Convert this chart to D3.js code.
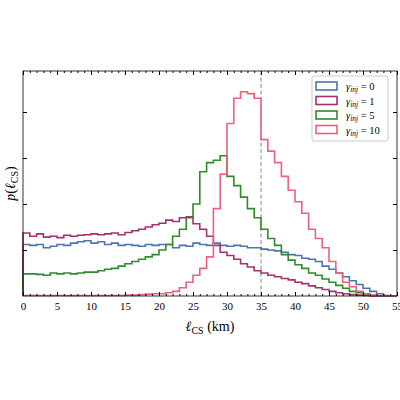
<!DOCTYPE html>
<html><head><meta charset="utf-8">
<script src="https://cdn.jsdelivr.net/npm/d3@7"></script>
<style>body{margin:0;background:#fff}text{font-family:"Liberation Serif","DejaVu Serif",serif}</style>
</head><body><svg id="c" width="400" height="400"></svg>
<script>
const binEdges = d3.range(0, 56, 1);
const gamma0 = [1.12,1.1,1.12,1.05,1.08,1.12,1.1,1.15,1.18,1.2,1.15,1.18,1.12,1.15,1.1,1.12,1.1,1.08,1.12,1.1,1.12,1.12,1.05,1.1,1.08,1.15,1.12,1.1,1.15,1.1,1.08,1.1,1.08,1.05,1.05,1.02,1.0,0.98,0.95,0.9,0.88,0.82,0.8,0.75,0.65,0.58,0.5,0.42,0.33,0.25,0.17,0.1,0.05,0.01,0];
const gamma1 = [1.37,1.3,1.35,1.28,1.3,1.27,1.32,1.3,1.32,1.33,1.35,1.33,1.35,1.37,1.33,1.38,1.42,1.45,1.5,1.55,1.58,1.65,1.62,1.7,1.72,1.57,1.45,1.3,1.1,0.95,0.88,0.8,0.7,0.63,0.55,0.5,0.45,0.42,0.38,0.35,0.3,0.27,0.22,0.18,0.14,0.1,0.07,0.05,0.03,0.02,0.01,0,0,0,0];
const gamma5 = [0.48,0.48,0.47,0.45,0.5,0.48,0.5,0.48,0.5,0.52,0.52,0.55,0.58,0.6,0.65,0.7,0.75,0.8,0.85,0.9,1.0,1.12,1.3,1.45,1.7,2.0,2.7,2.9,2.95,3.05,2.6,2.4,2.15,1.9,1.7,1.45,1.25,1.1,0.9,0.78,0.68,0.6,0.5,0.45,0.37,0.3,0.23,0.17,0.1,0.07,0.03,0.01,0,0,0];
const gamma10 = [0.01,0.01,0.01,0.01,0.01,0.01,0.01,0.01,0.01,0.01,0.01,0.01,0.01,0.01,0.01,0.02,0.02,0.03,0.04,0.05,0.05,0.07,0.1,0.18,0.3,0.45,0.6,0.85,1.9,2.65,3.75,4.3,4.44,4.4,4.3,3.4,3.15,2.9,2.6,2.3,2.05,1.8,1.45,1.25,1.05,0.75,0.5,0.3,0.2,0.1,0.05,0.02,0,0,0];
const seriesLabels = ["0","1","5","10"];
const seriesData = [gamma0, gamma1, gamma5, gamma10];
const colors = ["#4a77b0","#a8306e","#2e8b2e","#f0607c"];
const xTicks = d3.range(0, 56, 5);

const svg = d3.select("#c");
const m = {left:23, right:3, top:71, bottom:104};
const W = 400 - m.left - m.right, H = 400 - m.top - m.bottom;
const x = d3.scaleLinear().domain([0,55]).range([m.left, m.left+W]);
const y = d3.scaleLinear().domain([0,(296-71)/46]).range([m.top+H, m.top]);

// dashed line at 35
svg.append("line").attr("x1",x(35)).attr("x2",x(35)).attr("y1",m.top).attr("y2",m.top+H)
  .attr("stroke","#888").attr("stroke-dasharray","4,2.5").attr("stroke-width",1);

const line = d3.line().curve(d3.curveStepAfter).x(d=>x(d[0])).y(d=>y(d[1]));
seriesData.forEach((s,i)=>{
  const pts = s.map((v,j)=>[binEdges[j],v]);
  pts.push([55, s[s.length-1]]);
  pts.unshift([0,0]);
  svg.append("path").attr("d",line(pts)).attr("fill","none")
    .attr("stroke",colors[i]).attr("stroke-width",1.6);
});

// frame
svg.append("rect").attr("x",m.left).attr("y",m.top).attr("width",W).attr("height",H)
  .attr("fill","none").attr("stroke","#000").attr("stroke-width",0.8);

const gx = svg.append("g").attr("transform",`translate(0,${m.top+H})`)
  .call(d3.axisBottom(x).tickValues(xTicks).tickSize(-4).tickPadding(6));
gx.select(".domain").remove();
gx.selectAll("text").style("font-size","11px");
const gxm = svg.append("g").attr("transform",`translate(0,${m.top+H})`)
  .call(d3.axisBottom(x).ticks(55).tickSize(-2).tickFormat(""));
gxm.select(".domain").remove();
const gt = svg.append("g").attr("transform",`translate(0,${m.top})`)
  .call(d3.axisTop(x).tickValues(xTicks).tickSize(-4).tickFormat(""));
gt.select(".domain").remove();
const gtm = svg.append("g").attr("transform",`translate(0,${m.top})`)
  .call(d3.axisTop(x).ticks(55).tickSize(-2).tickFormat(""));
gtm.select(".domain").remove();
const yT = [1,2,3,4];
const gl = svg.append("g").attr("transform",`translate(${m.left},0)`)
  .call(d3.axisLeft(y).tickValues(yT).tickSize(-4).tickFormat(""));
gl.select(".domain").remove();
const gr = svg.append("g").attr("transform",`translate(${m.left+W},0)`)
  .call(d3.axisRight(y).tickValues(yT).tickSize(-4).tickFormat(""));
gr.select(".domain").remove();

// axis labels
const xl = svg.append("text").attr("x",x(27.5)).attr("y",331).attr("text-anchor","middle").style("font-size","14px");
xl.append("tspan").attr("font-style","italic").text("ℓ");
xl.append("tspan").attr("dy",3).style("font-size","10px").text("CS");
xl.append("tspan").attr("dy",-3).text(" (km)");
const yl = svg.append("text").attr("transform",`translate(15,${m.top+H/2}) rotate(-90)`).attr("text-anchor","middle").style("font-size","14px");
yl.append("tspan").attr("font-style","italic").text("p");
yl.append("tspan").text("(");
yl.append("tspan").attr("font-style","italic").text("ℓ");
yl.append("tspan").attr("dy",3).style("font-size","10px").text("CS");
yl.append("tspan").attr("dy",-3).text(")");

// legend
const lg = svg.append("g").attr("transform","translate(312,76)");
lg.append("rect").attr("width",76).attr("height",65).attr("rx",2).attr("fill","#fff").attr("fill-opacity",0.8).attr("stroke","#ccc");
seriesLabels.forEach((lab,i)=>{
  const r = lg.append("g").attr("transform",`translate(4,${6+i*14.5})`);
  r.append("rect").attr("width",21).attr("height",8).attr("fill","none").attr("stroke",colors[i]).attr("stroke-width",1.6);
  const t = r.append("text").attr("x",30).attr("y",8).style("font-size","10.5px");
  t.append("tspan").attr("font-style","italic").text("γ");
  t.append("tspan").attr("dy",2).attr("font-style","italic").style("font-size","7.5px").text("inj");
  t.append("tspan").attr("dy",-2).text(" = " + lab);
});
</script></body></html>
